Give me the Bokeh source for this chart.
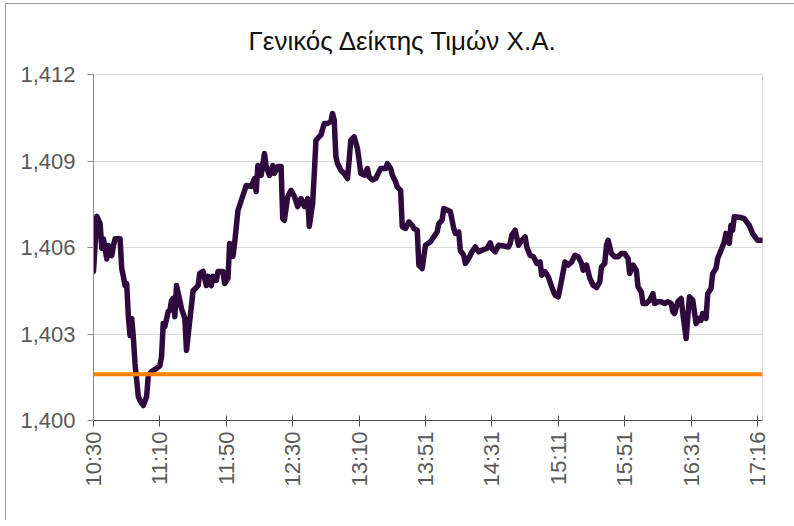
from bokeh.plotting import figure
from bokeh.models import Range1d, FixedTicker, NumeralTickFormatter
from bokeh.embed import file_html
from bokeh.resources import INLINE
import math

# ---------------- data ----------------
title_text = "Γενικός Δείκτης Τιμών Χ.Α."
tick_pos = [0, 40, 80, 120, 160, 200, 240, 280, 320, 360, 400]
tick_labels = ["10:30", "11:10", "11:50", "12:30", "13:10", "13:51",
               "14:31", "15:11", "15:51", "16:31", "17:16"]
y_ticks = [1400, 1403, 1406, 1409, 1412]
ref_level = 1401.6
n_last = 403

idx = [0, 2, 4, 5, 6, 8, 9, 11, 12, 13, 16, 17, 18, 19, 20, 21, 22, 23, 24, 25,
       27, 28, 30, 32, 33, 35, 37, 40, 41, 42, 43, 45, 46, 47, 48, 49, 50, 52, 53, 55,
       56, 58, 60, 63, 64, 66, 68, 69, 71, 72, 74, 75, 78, 79, 81, 82, 84, 85, 87, 89,
       92, 95, 97, 98, 99, 101, 103, 104, 106, 108, 109, 111, 113, 114, 115, 117, 119, 121, 123, 125,
       127, 129, 130, 132, 133, 134, 136, 137, 139, 141, 143, 144, 145, 146, 147, 149, 151, 153, 154, 155,
       157, 159, 160, 161, 163, 165, 166, 168, 170, 172, 173, 176, 177, 179, 180, 182, 183, 185, 186, 188,
       190, 192, 193, 195, 196, 198, 199, 200, 203, 205, 207, 208, 210, 211, 213, 215, 217, 218, 220, 221,
       223, 224, 226, 228, 230, 232, 235, 237, 239, 240, 242, 244, 247, 250, 251, 252, 254, 256, 258, 260,
       261, 263, 265, 267, 269, 270, 272, 274, 276, 278, 280, 282, 284, 286, 288, 290, 292, 294, 295, 297,
       299, 301, 303, 305, 306, 308, 309, 310, 312, 314, 316, 318, 320, 322, 323, 325, 327, 328, 330, 331,
       333, 335, 337, 338, 340, 342, 344, 346, 348, 349, 350, 352, 354, 355, 357, 358, 359, 361, 363, 365,
       366, 367, 369, 370, 372, 373, 375, 376, 378, 380, 381, 383, 384, 385, 386, 390, 392, 395, 397, 400,
       403]

vals = [1405.17, 1407.08, 1406.83, 1405.97, 1406.30, 1405.60, 1406.07, 1405.72, 1406.07, 1406.30,
        1406.30, 1405.27, 1405.00, 1404.68, 1404.75, 1403.60, 1402.95, 1403.54, 1402.90, 1401.98,
        1400.83, 1400.69, 1400.52, 1400.83, 1401.56, 1401.70, 1401.77, 1401.90, 1402.22, 1403.36,
        1403.26, 1403.78, 1403.82, 1404.16, 1404.23, 1403.60, 1404.68, 1404.16, 1403.88, 1403.54,
        1402.43, 1403.47, 1404.50, 1404.68, 1405.10, 1405.17, 1404.68, 1405.00, 1404.68, 1405.00,
        1404.86, 1405.17, 1405.17, 1404.75, 1404.93, 1406.14, 1405.69, 1406.14, 1407.28, 1407.63,
        1408.15, 1408.12, 1408.39, 1407.94, 1408.84, 1408.50, 1409.26, 1408.81, 1408.50, 1408.84,
        1408.57, 1408.81, 1408.81, 1407.00, 1406.94, 1407.77, 1407.98, 1407.77, 1407.42, 1407.70,
        1407.42, 1407.70, 1406.73, 1407.53, 1408.57, 1409.71, 1409.85, 1409.90, 1410.30, 1410.30,
        1410.37, 1410.65, 1410.42, 1409.16, 1408.91, 1408.68, 1408.57, 1408.39, 1409.03, 1409.72,
        1409.84, 1409.43, 1409.03, 1408.57, 1408.51, 1408.74, 1408.45, 1408.34, 1408.39, 1408.63,
        1408.74, 1408.74, 1408.91, 1408.74, 1408.51, 1408.28, 1408.10, 1407.99, 1406.72, 1406.66,
        1406.89, 1406.77, 1406.66, 1406.60, 1405.39, 1405.27, 1405.68, 1406.08, 1406.20, 1406.37,
        1406.54, 1406.83, 1406.95, 1407.35, 1407.30, 1407.24, 1406.66, 1406.49, 1406.54, 1405.90,
        1405.73, 1405.45, 1405.62, 1405.85, 1406.02, 1405.85, 1405.93, 1405.97, 1406.16, 1405.97,
        1405.85, 1406.08, 1406.05, 1406.02, 1406.14, 1406.43, 1406.60, 1406.08, 1406.25, 1406.37,
        1406.02, 1405.73, 1405.68, 1405.45, 1405.50, 1405.04, 1405.16, 1404.98, 1404.64, 1404.35,
        1404.29, 1404.87, 1405.50, 1405.39, 1405.50, 1405.73, 1405.68, 1405.45, 1405.21, 1405.39,
        1404.93, 1404.69, 1404.61, 1404.81, 1405.33, 1405.45, 1406.08, 1406.25, 1405.79, 1405.68,
        1405.68, 1405.79, 1405.79, 1405.62, 1405.10, 1405.39, 1405.21, 1404.64, 1404.46, 1404.06,
        1404.06, 1404.17, 1404.40, 1404.06, 1404.12, 1404.12, 1404.06, 1404.12, 1404.06, 1403.77,
        1403.71, 1404.12, 1404.23, 1403.71, 1402.84, 1403.60, 1404.29, 1404.17, 1403.36, 1403.54,
        1403.48, 1403.71, 1403.54, 1404.40, 1404.58, 1405.10, 1405.27, 1405.62, 1405.90, 1406.20,
        1406.49, 1406.14, 1406.77, 1406.60, 1407.07, 1407.04, 1407.00, 1406.77, 1406.49, 1406.25,
        1406.25]

# ---------------- styling ----------------
FONT = "'Liberation Sans Narrow', 'Arial Narrow', 'Liberation Sans', sans-serif"
LINE_COLOR = "#2f0a3d"
REF_COLOR = "#ff8200"

p = figure(
    frame_width=669, frame_height=346,
    min_border_left=87, min_border_right=32, min_border_top=67, min_border_bottom=100,
    x_range=Range1d(0, n_last), y_range=Range1d(y_ticks[0], y_ticks[-1]),
    output_backend="svg", toolbar_location=None,
    background_fill_color="white", border_fill_color="white",
)
p.styles = {"margin-left": "5px", "margin-top": "3px",
            "border-left": "1px solid #9a9a9a", "border-top": "1px solid #9a9a9a"}

p.title.text = title_text
p.title.align = "left"
p.title.offset = 155
p.title.vertical_align = "bottom"
p.title.standoff = 38
p.title.text_font = FONT
p.title.text_font_size = "26px"
p.title.text_font_style = "normal"
p.title.text_color = "#111111"

p.outline_line_color = "#d9d9d9"
p.outline_line_width = 1

p.xgrid.visible = False
p.ygrid.grid_line_color = "#d9d9d9"
p.ygrid.grid_line_width = 1

p.yaxis.ticker = FixedTicker(ticks=y_ticks)
p.yaxis.formatter = NumeralTickFormatter(format="0,0")
p.yaxis.axis_line_color = "#8c8c8c"
p.yaxis.major_tick_line_color = "#8c8c8c"
p.yaxis.major_tick_in = 0
p.yaxis.major_tick_out = 6
p.yaxis.minor_tick_line_color = None
p.yaxis.major_label_text_font = FONT
p.yaxis.major_label_text_font_size = "22px"
p.yaxis.major_label_text_color = "#595959"
p.yaxis.major_label_standoff = 12

p.xaxis.ticker = FixedTicker(ticks=tick_pos)
p.xaxis.major_label_overrides = {pos: lab for pos, lab in zip(tick_pos, tick_labels)}
p.xaxis.axis_line_color = "#4d4d4d"
p.xaxis.major_tick_line_color = "#4d4d4d"
p.xaxis.major_tick_in = 5
p.xaxis.major_tick_out = 6
p.xaxis.minor_tick_line_color = None
p.xaxis.major_label_orientation = math.pi / 2
p.xaxis.major_label_text_font = FONT
p.xaxis.major_label_text_font_size = "22px"
p.xaxis.major_label_text_color = "#595959"
p.xaxis.major_label_standoff = 5

p.line(idx, vals, line_color=LINE_COLOR, line_width=5.5, line_join="round", line_cap="round")
p.line([0, n_last], [ref_level, ref_level], line_color=REF_COLOR, line_width=4)

open("out.html", "w").write(file_html(p, INLINE))
